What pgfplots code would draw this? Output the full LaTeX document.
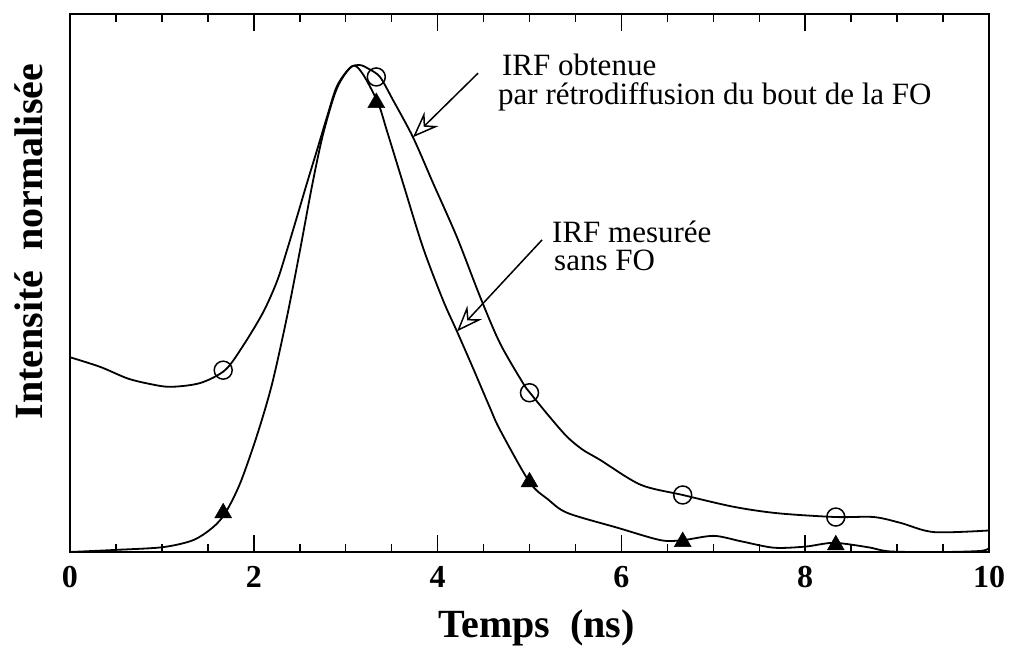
\documentclass[border=0pt]{standalone}
\usepackage{fontspec}
\setmainfont{Liberation Serif}
\usepackage{pgfplots}
\pgfplotsset{compat=1.18}
\usetikzlibrary{arrows.meta}

\begin{document}
\begin{tikzpicture}
\begin{axis}[
  scale only axis, width=919pt, height=538pt,
  xmin=0, xmax=10, ymin=0, ymax=1,
  axis line style={line width=2pt},
  xtick={0,2,4,6,8,10},
  minor x tick num=3,
  ytick=\empty,
  tick align=inside,
  major tick length=17pt, minor tick length=8pt,
  tick style={line width=1.5pt, black},
  /pgf/number format/assume math mode=true,
  xticklabel style={font=\bfseries\fontsize{32}{32}\selectfont, yshift=-11pt},
  xlabel={Temps\ \ (ns)},
  ylabel={Intensité\ \ normalisée},
  xlabel style={font=\bfseries\fontsize{40}{40}\selectfont, at={(axis description cs:0.5076,-0.158)}, anchor=base},
  ylabel style={font=\bfseries\fontsize{40}{40}\selectfont, at={(axis description cs:-0.0294,0.577)}, anchor=base},
  clip=false,
]
% IRF obtenue par retrodiffusion du bout de la FO (upper curve)
\addplot[black, line width=1.8pt, smooth, tension=0.5] coordinates {
(0,0.362) (0.33,0.344) (0.62,0.323) (0.85,0.313) (1.09,0.307) (1.415,0.314)
(1.687,0.338) (1.882,0.383) (2.100,0.445) (2.252,0.503) (2.361,0.561) (2.470,0.623)
(2.579,0.686) (2.688,0.747) (2.797,0.809) (2.905,0.866) (3.047,0.900) (3.156,0.905)
(3.25,0.898) (3.373,0.883) (3.515,0.840) (3.732,0.771) (3.950,0.686) (4.211,0.585)
(4.461,0.475) (4.679,0.388) (4.929,0.314) (5.005,0.296) (5.22,0.251) (5.41,0.214)
(5.58,0.19) (5.77,0.171) (6.209,0.125) (6.667,0.106) (7.222,0.084) (7.702,0.072)
(8.333,0.065) (8.747,0.065) (9.04,0.054) (9.40,0.037) (10,0.040)
};
% IRF mesuree sans FO (lower curve)
\addplot[black, line width=1.8pt, smooth, tension=0.5] coordinates {
(0,0.0) (0.51,0.004) (1.01,0.009) (1.34,0.022) (1.556,0.046) (1.69,0.0725)
(1.852,0.128) (2.037,0.218) (2.198,0.312) (2.361,0.437) (2.503,0.561) (2.633,0.680)
(2.753,0.776) (2.905,0.862) (3.07,0.903) (3.18,0.89) (3.351,0.835) (3.45,0.782)
(3.623,0.686) (3.841,0.566) (4.059,0.468) (4.211,0.410) (4.385,0.342) (4.570,0.268)
(4.679,0.227) (5.0,0.13) (5.2,0.098) (5.414,0.0725) (5.959,0.045) (6.427,0.022)
(6.667,0.022) (7.004,0.03) (7.3,0.02) (7.658,0.008) (8.0,0.010) (8.31,0.017)
(8.68,0.009) (8.93,0.001) (9.5,0.0) (9.91,0.002) (10,0.007)
};
% markers
\addplot[only marks, mark=o, mark size=9pt, mark options={line width=1.5pt, black}] coordinates {
(1.667,0.338) (3.333,0.883) (5.0,0.296) (6.667,0.106) (8.333,0.065)
};
\addplot[only marks, mark=triangle*, mark size=9.8pt, mark options={black, fill=black}] coordinates {
(1.667,0.0725) (3.333,0.835) (5.0,0.13) (6.667,0.019) (8.333,0.013)
};
% annotations
\draw[line width=1.5pt, -{Stealth[open, length=26pt, width=20pt, inset=9pt]}] (axis cs:4.44,0.89) -- (axis cs:3.732,0.771);
\draw[line width=1.5pt, -{Stealth[open, length=26pt, width=20pt, inset=9pt]}] (axis cs:5.136,0.58) -- (axis cs:4.211,0.410);
\node[anchor=base west, inner sep=0pt, font=\fontsize{31}{31}\selectfont] at (axis cs:4.70,0.885) {IRF obtenue};
\node[anchor=base west, inner sep=0pt, font=\fontsize{31}{31}\selectfont] at (axis cs:4.657,0.831) {par rétrodiffusion du bout de la FO};
\node[anchor=base west, inner sep=0pt, font=\fontsize{31}{31}\selectfont] at (axis cs:5.245,0.576) {IRF mesurée};
\node[anchor=base west, inner sep=0pt, font=\fontsize{31}{31}\selectfont] at (axis cs:5.267,0.524) {sans FO};
\end{axis}
\pgfresetboundingbox
\path[use as bounding box] (-70pt,-94pt) rectangle (942pt,552pt);
\end{tikzpicture}
\end{document}
